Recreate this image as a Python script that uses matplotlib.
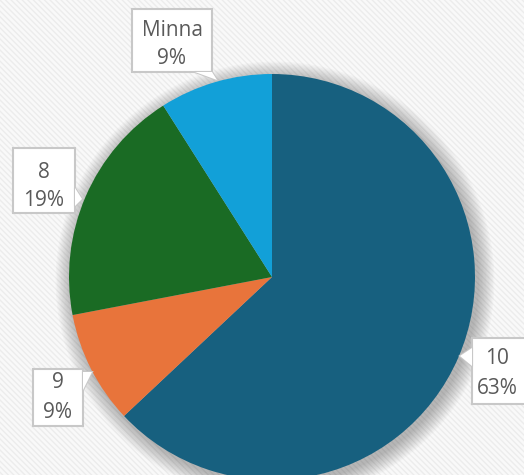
import matplotlib
matplotlib.use("Agg")
import matplotlib.pyplot as plt
from matplotlib.patches import Rectangle, Polygon, Circle

labels = ["10", "9", "8", "Minna"]
values = [63, 9, 19, 9]
colors = ["#17607f", "#e8743b", "#1a6b24", "#12a0d8"]

W, H = 524, 475
fig = plt.figure(figsize=(W / 100, H / 100), dpi=100)
ax = fig.add_axes([0, 0, 1, 1])

# textured background
ax.add_patch(Rectangle((0, 0), W, H, facecolor="#f9f9f9", edgecolor="none", zorder=0))
ax.add_patch(Rectangle((0, 0), W, H, facecolor="none", edgecolor="#ececec",
                       hatch="\\\\\\\\\\\\", linewidth=0, zorder=0.5))

cx, cy, r = 272, H - 277, 203
# soft shadow
for i in range(12):
    ax.add_patch(Circle((cx + 3, cy - 4), r + 1 + i * 1.4, facecolor="#000000",
                        alpha=0.022, edgecolor="none", zorder=1))

ax.pie(values, colors=colors, startangle=90, counterclock=False,
       center=(cx, cy), radius=r, frame=True,
       wedgeprops=dict(linewidth=0, zorder=2))
ax.set_xlim(0, W)
ax.set_ylim(0, H)
ax.set_aspect("equal")
ax.axis("off")

def Y(y):
    return H - y

boxes = [
    # (x0, y0, x1, y1, pointer polygon in pixel coords, text center x, line1 y, line2 y)
    (472, 338, 530, 404, [(472, 348), (460, 356), (472, 366)], 497, 359, 388),
    (33, 369, 83, 426, [(83, 372), (92, 372), (83, 390)], 58, 383, 412),
    (13, 148, 75, 213, [(75, 188), (82, 199), (75, 206)], 44, 172, 201),
    (132, 9, 212, 72, [(195, 72), (217, 80), (212, 72)], 172, 30, 59),
]
pcts = [f"{v}%" for v in values]
for (x0, y0, x1, y1, ptr, tx, ly1, ly2), lab, pct in zip(boxes, labels, pcts):
    ax.add_patch(Rectangle((x0, Y(y1)), x1 - x0, y1 - y0, facecolor="white",
                           edgecolor="#c8c8c8", linewidth=1.5, zorder=5))
    ax.add_patch(Polygon([(px, Y(py)) for px, py in ptr], closed=True,
                         facecolor="white", edgecolor="#c8c8c8", linewidth=1.5, zorder=5))
    ax.add_patch(Polygon([(px, Y(py)) for px, py in ptr], closed=True,
                         facecolor="white", edgecolor="none", zorder=6))
    ax.text(tx, Y(ly1), lab, ha="center", va="center", fontsize=15,
            color="#5a5a5a", family="Open Sans", zorder=7)
    ax.text(tx, Y(ly2), pct, ha="center", va="center", fontsize=15,
            color="#5a5a5a", family="Open Sans", zorder=7)

fig.savefig("out.png", dpi=100)
